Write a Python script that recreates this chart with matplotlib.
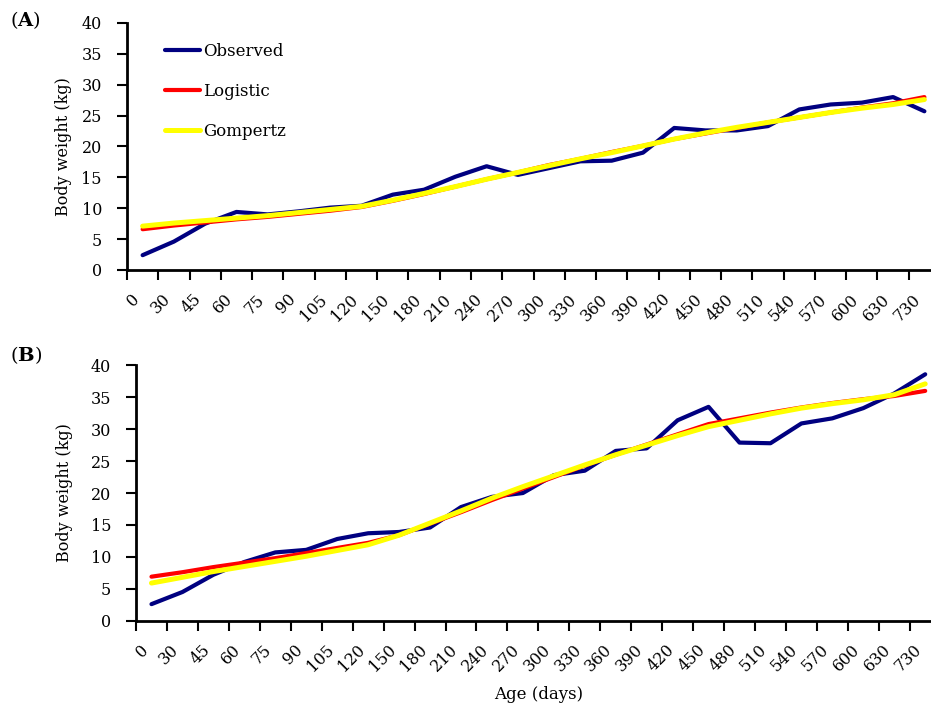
import matplotlib
matplotlib.use('Agg')
import matplotlib.pyplot as plt
import numpy as np

# age classes (days) used as categories on the x axis
ages = ['0', '30', '45', '60', '75', '90', '105', '120', '150', '180', '210',
        '240', '270', '300', '330', '360', '390', '420', '450', '480', '510',
        '540', '570', '600', '630', '730']

# panel A body weights (kg)
obs_a = [2.4, 4.6, 7.5, 9.4, 9.0, 9.5, 10.1, 10.4, 12.2, 13.0, 15.1, 16.8, 15.4,
         16.5, 17.6, 17.7, 19.0, 23.0, 22.6, 22.6, 23.3, 26.0, 26.8, 27.1, 28.0, 25.7]
log_a = [6.6, 7.2, 7.7, 8.2, 8.6, 9.1, 9.6, 10.2, 11.2, 12.3, 13.5, 14.7, 15.8,
         17.0, 18.0, 19.1, 20.1, 21.2, 22.1, 23.0, 23.9, 24.7, 25.5, 26.3, 27.0, 28.0]
gom_a = [7.1, 7.6, 8.0, 8.4, 8.8, 9.3, 9.8, 10.3, 11.3, 12.4, 13.5, 14.7, 15.8,
         16.9, 18.0, 19.0, 20.1, 21.2, 22.2, 23.1, 23.9, 24.7, 25.5, 26.2, 26.8, 27.6]

# panel B body weights (kg)
obs_b = [2.6, 4.5, 7.2, 9.2, 10.7, 11.1, 12.8, 13.7, 13.9, 14.6, 17.8, 19.4, 20.0,
         22.8, 23.5, 26.6, 27.0, 31.4, 33.5, 27.9, 27.8, 30.9, 31.7, 33.3, 35.6, 38.6]
log_b = [6.9, 7.6, 8.4, 9.1, 9.8, 10.6, 11.4, 12.2, 13.4, 15.2, 17.0, 18.9, 20.7,
         22.5, 24.3, 26.0, 27.6, 29.2, 30.8, 31.7, 32.6, 33.4, 34.1, 34.7, 35.2, 36.0]
gom_b = [5.9, 6.8, 7.7, 8.5, 9.3, 10.1, 11.0, 11.9, 13.4, 15.3, 17.2, 19.2, 21.0,
         22.7, 24.4, 26.0, 27.5, 29.0, 30.4, 31.4, 32.4, 33.3, 34.0, 34.6, 35.4, 37.1]

plt.rc('font', family='DejaVu Serif', size=11.5)
plt.rcParams['mathtext.fontset'] = 'dejavuserif'

fig = plt.figure(figsize=(9.31, 7.09), dpi=100)
ax_a = fig.add_axes([0.1364, 0.6192, 0.8733, 0.3484])
ax_b = fig.add_axes([0.1461, 0.1245, 0.8643, 0.3602])

x = np.arange(len(ages))


def draw_panel(ax, obs, log, gom, label_x):
    ax.plot(x, obs, color='#000080', lw=3.0, solid_capstyle='round', label='Observed')
    ax.plot(x, log, color='#ff0000', lw=3.0, solid_capstyle='round', label='Logistic')
    ax.plot(x, gom, color='#ffff00', lw=3.6, solid_capstyle='round', label='Gompertz')

    ax.set_xlim(-0.5, len(ages) - 0.5)
    ax.set_ylim(0, 40)
    ax.set_yticks(range(0, 45, 5))

    ax.set_xticks(x)
    ax.set_xticklabels(ages, rotation=45, ha='right', va='top')
    ax.set_xticks(np.arange(len(ages) + 1) - 0.5, minor=True)
    ax.tick_params(axis='x', which='major', length=0, pad=15)
    ax.tick_params(axis='x', which='minor', length=7, width=1.5, direction='out')
    ax.tick_params(axis='y', length=7, width=1.5, direction='out', pad=11)

    for side in ['top', 'right']:
        ax.spines[side].set_visible(False)
    for side in ['left', 'bottom']:
        ax.spines[side].set_linewidth(2)

    ax.set_ylabel('Body weight (kg)', fontsize=11.5, va='center')
    ax.yaxis.set_label_coords(label_x, 0.5)


draw_panel(ax_a, obs_a, log_a, gom_a, -0.0775)
draw_panel(ax_b, obs_b, log_b, gom_b, -0.0895)

ax_a.legend(loc='upper left', bbox_to_anchor=(0.0467, 0.919), frameon=False,
            fontsize=12, handlelength=2.1, handletextpad=0.2, labelspacing=1.38,
            borderaxespad=0, borderpad=0)

ax_b.set_xlabel('Age (days)', fontsize=12)
ax_b.xaxis.set_label_coords(0.5, -0.255)

fig.text(0.011, 1 - 20 / 709, r'($\mathbf{A}$)', fontsize=14, va='center')
fig.text(0.011, 1 - 355 / 709, r'($\mathbf{B}$)', fontsize=14, va='center')

fig.savefig('out.png', dpi=100)
